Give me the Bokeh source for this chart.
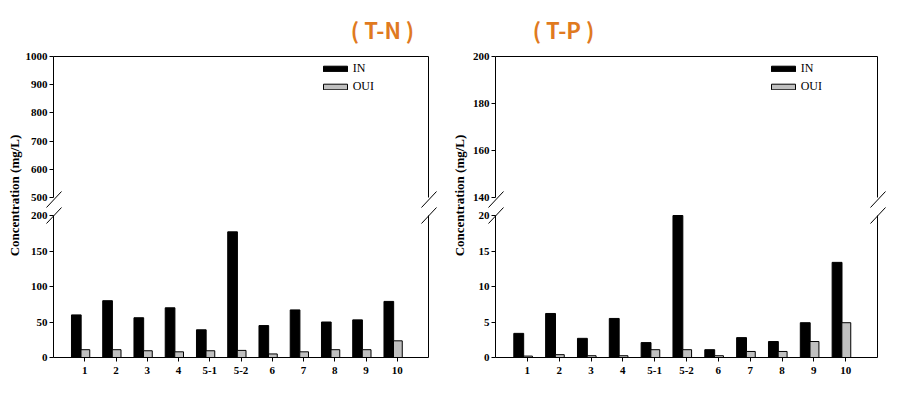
import math
from bokeh.plotting import figure
from bokeh.models import (Range1d, LinearAxis, FixedTicker, Legend, LegendItem,
                          Label, ColumnDataSource)
from bokeh.transform import dodge
from bokeh.layouts import row
from bokeh.embed import file_html
from bokeh.resources import INLINE

# ---------------- data ----------------
categories = ["1", "2", "3", "4", "5-1", "5-2", "6", "7", "8", "9", "10"]
tn_in = [60, 80, 56, 70, 39, 177, 45, 67, 50, 53, 79]
tn_out = [11, 11, 9.5, 8, 9.5, 10, 5, 8, 11, 11, 23.5]
tp_in = [3.4, 6.2, 2.7, 5.5, 2.1, 20.0, 1.1, 2.8, 2.25, 4.9, 13.4]
tp_out = [0.2, 0.4, 0.25, 0.25, 1.1, 1.1, 0.25, 0.85, 0.85, 2.25, 4.9]
tn_low_ticks = [0, 50, 100, 150, 200]
tn_high_ticks = [500, 600, 700, 800, 900, 1000]
tp_low_ticks = [0, 5, 10, 15, 20]
tp_high_ticks = [140, 160, 180, 200]
series_names = ["IN", "OUI"]
titles = ["( T-N )", "( T-P )"]
y_title = "Concentration (mg/L)"

# ---------------- layout constants (pixels) ----------------
PW, PH = 451, 418
AX_TOP, AX_BOTTOM = 56, 357
LOW_TOP_PX = 215
HIGH_BOTTOM_PX = 197
TICK_FONT = "Liberation Serif"


def style_axis(ax):
    ax.axis_line_color = "black"
    ax.axis_line_width = 1
    ax.major_tick_line_color = "black"
    ax.major_tick_out = 4
    ax.major_tick_in = 0
    ax.minor_tick_line_color = None
    ax.major_label_text_font = TICK_FONT
    ax.major_label_text_font_style = "bold"
    ax.major_label_text_font_size = "11px"
    ax.major_label_text_color = "black"


def make_panel(offset, axis_l, axis_r, low_ticks, high_ticks, vin, vout,
               title, title_cx, ylabel_cx, legend_swatch_left):
    # the frame fills the whole canvas; axes are placed at fixed locations
    ppu = (axis_r - axis_l) / 12.0
    x_range = Range1d(-1 - (axis_l - offset) / ppu, 11 + (offset + PW - axis_r) / ppu)

    lo_max = low_ticks[-1]
    lo_ppu = (AX_BOTTOM - LOW_TOP_PX) / lo_max
    y_range = Range1d(-(PH - AX_BOTTOM) / lo_ppu, AX_BOTTOM / lo_ppu)

    hi_min, hi_max = high_ticks[0], high_ticks[-1]
    hi_ppu = (HIGH_BOTTOM_PX - AX_TOP) / (hi_max - hi_min)
    hi_range = Range1d(hi_max - (PH - AX_TOP) / hi_ppu, hi_max + AX_TOP / hi_ppu)

    def xd(px):
        return -1 + (px - axis_l) / ppu

    def yd(py):
        return (AX_BOTTOM - py) / lo_ppu

    p = figure(width=PW, height=PH, output_backend="svg", toolbar_location=None,
               x_range=x_range, y_range=y_range,
               x_axis_location=None, y_axis_location=None,
               min_border=0, min_border_left=0, min_border_right=0,
               min_border_top=0, min_border_bottom=0,
               outline_line_color=None, background_fill_color="white",
               border_fill_color="white")
    p.extra_y_ranges = {"high": hi_range}
    p.grid.visible = False

    # left axes (broken)
    yl = LinearAxis(ticker=FixedTicker(ticks=low_ticks), bounds=(0, lo_max),
                    fixed_location=-1)
    yh = LinearAxis(y_range_name="high", ticker=FixedTicker(ticks=high_ticks),
                    bounds=(hi_min, hi_max), fixed_location=-1)
    for ax in (yl, yh):
        style_axis(ax)
        ax.major_label_standoff = 2
        p.add_layout(ax, "left")

    # right frame lines
    rl = LinearAxis(ticker=FixedTicker(ticks=[]), bounds=(0, lo_max), fixed_location=11)
    rh = LinearAxis(y_range_name="high", ticker=FixedTicker(ticks=[]),
                    bounds=(hi_min, hi_max), fixed_location=11)
    for ax in (rl, rh):
        style_axis(ax)
        p.add_layout(ax, "right")

    # top frame line
    ta = LinearAxis(y_range_name="high", ticker=FixedTicker(ticks=[]),
                    bounds=(-1, 11), fixed_location=hi_max)
    style_axis(ta)
    p.add_layout(ta, "above")

    # bottom category axis
    xa = LinearAxis(ticker=FixedTicker(ticks=list(range(len(categories)))),
                    major_label_overrides={i: c for i, c in enumerate(categories)},
                    bounds=(-1, 11), fixed_location=0)
    style_axis(xa)
    xa.major_label_standoff = 5
    p.add_layout(xa, "below")

    src = ColumnDataSource(dict(x=list(range(len(categories))), vin=vin, vout=vout))
    r_in = p.vbar(x=dodge("x", -0.27, range=x_range), top="vin", bottom=0, width=0.31,
                  source=src, fill_color="black", line_color="black", line_width=1)
    r_out = p.vbar(x=dodge("x", 0.02, range=x_range), top="vout", bottom=0, width=0.28,
                   source=src, fill_color="#c0c0c0", line_color="black", line_width=1)

    # axis break marks
    bx0, by0, bx1, by1 = [], [], [], []
    for ax_px in (axis_l, axis_r):
        for yb, yt in ((207, 191), (223, 207)):
            bx0.append(xd(ax_px - 7)); by0.append(yd(yb))
            bx1.append(xd(ax_px + 8)); by1.append(yd(yt))
    p.segment(x0=bx0, y0=by0, x1=bx1, y1=by1, line_color="black", line_width=1)

    legend_top, item_h, spacing = 63, 14, 3
    legend_h = 2 * item_h + spacing
    legend = Legend(items=[LegendItem(label=series_names[0], renderers=[r_in]),
                           LegendItem(label=series_names[1], renderers=[r_out])],
                    location=(legend_swatch_left - 3 - offset,
                              PH - (legend_top + legend_h)),
                    glyph_width=30, glyph_height=7, label_height=item_h,
                    label_standoff=3, spacing=spacing, padding=0, margin=0,
                    border_line_color=None, background_fill_alpha=0,
                    label_text_font=TICK_FONT, label_text_font_size="12px",
                    label_text_color="black")
    p.add_layout(legend)

    p.add_layout(Label(x=xd(title_cx), y=yd(28), text=title, text_align="center",
                       text_baseline="middle", text_font="Noto Sans CJK KR",
                       text_font_style="bold", text_font_size="22px",
                       text_color="#E07A1F"))
    p.add_layout(Label(x=xd(ylabel_cx), y=yd(195), text=y_title, angle=math.pi / 2,
                       text_align="center", text_baseline="middle",
                       text_font=TICK_FONT, text_font_style="bold",
                       text_font_size="13px", text_color="black"))
    return p


p1 = make_panel(0, 53, 428, tn_low_ticks, tn_high_ticks, tn_in, tn_out,
                titles[0], 382, 14, 322.7)
p2 = make_panel(451, 495, 877, tp_low_ticks, tp_high_ticks, tp_in, tp_out,
                titles[1], 563, 459, 770.7)

layout = row(p1, p2)
open("out.html", "w").write(file_html(layout, INLINE))
